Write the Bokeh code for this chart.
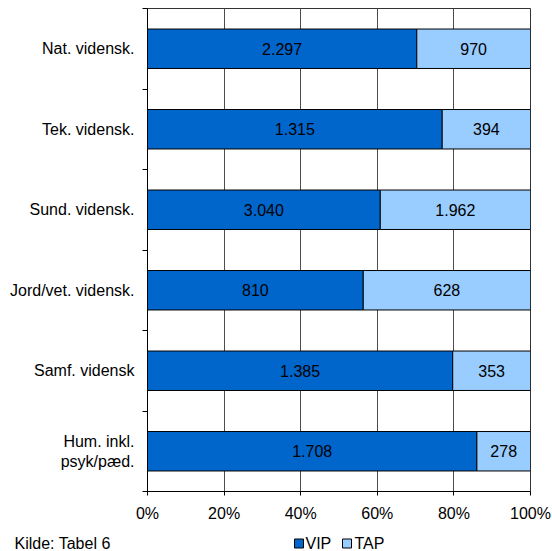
from bokeh.plotting import figure
from bokeh.models import ColumnDataSource, FixedTicker, Range1d
from bokeh.layouts import column, row
from bokeh.core.properties import value
from bokeh.embed import file_html
from bokeh.resources import INLINE

categories = ["Nat. vidensk.", "Tek. vidensk.", "Sund. vidensk.", "Jord/vet. vidensk.",
              "Samf. vidensk", "Hum. inkl.\npsyk/pæd."]
vip = [2297, 1315, 3040, 810, 1385, 1708]
tap = [970, 394, 1962, 628, 353, 278]
series_names = ["VIP", "TAP"]
series_colors = ["#0066CC", "#99CCFF"]
x_ticks = [0, 20, 40, 60, 80, 100]
x_tick_labels = ["0%", "20%", "40%", "60%", "80%", "100%"]
source_note = "Kilde: Tabel 6"

FONT = "Liberation Sans"
FS = "16px"

n = len(categories)
ypos = [n - i - 0.5 for i in range(n)]
tot = [a + b for a, b in zip(vip, tap)]
vip_pct = [100.0 * a / t for a, t in zip(vip, tot)]


def fmt(v):
    return f"{v:,}".replace(",", ".")


src = ColumnDataSource(dict(
    y=ypos,
    vip_r=vip_pct,
    zero=[0] * n,
    full=[100] * n,
    vip_mid=[q / 2 for q in vip_pct],
    tap_mid=[(q + 100) / 2 for q in vip_pct],
    vip_txt=[fmt(v) for v in vip],
    tap_txt=[fmt(v) for v in tap],
))

p = figure(width=552, height=528, output_backend="svg", toolbar_location=None,
           x_range=Range1d(0, 100), y_range=Range1d(0, n),
           min_border_left=147, min_border_right=22, min_border_top=8, min_border_bottom=37)
p.title = None
p.background_fill_color = "white"
p.border_fill_color = "white"
p.outline_line_color = "#333333"

p.hbar(y="y", left="zero", right="vip_r", height=0.49, source=src,
       fill_color=series_colors[0], line_color="black", line_width=1)
p.hbar(y="y", left="vip_r", right="full", height=0.49, source=src,
       fill_color=series_colors[1], line_color="black", line_width=1)

p.text(x="vip_mid", y="y", text="vip_txt", source=src, text_align="center",
       text_baseline="middle", text_font=value(FONT), text_font_size=value(FS),
       text_color="black")
p.text(x="tap_mid", y="y", text="tap_txt", source=src, text_align="center",
       text_baseline="middle", text_font=value(FONT), text_font_size=value(FS),
       text_color="black")

# x axis
p.xaxis.ticker = FixedTicker(ticks=x_ticks)
p.xaxis.major_label_overrides = {t: l for t, l in zip(x_ticks, x_tick_labels)}
p.xaxis.major_label_text_font = FONT
p.xaxis.major_label_text_font_size = FS
p.xaxis.major_label_text_color = "black"
p.xaxis.major_tick_out = 4
p.xaxis.major_tick_in = 0
p.xaxis.minor_tick_out = 0
p.xaxis.minor_tick_in = 0
p.xaxis.major_label_standoff = 9
p.xaxis.axis_line_color = "black"
p.xaxis.major_tick_line_color = "black"

# y axis
p.yaxis.ticker = FixedTicker(ticks=ypos, minor_ticks=list(range(n + 1)))
p.yaxis.major_label_overrides = {y: c for y, c in zip(ypos, categories)}
p.yaxis.major_label_text_font = FONT
p.yaxis.major_label_text_font_size = FS
p.yaxis.major_label_text_color = "black"
p.yaxis.major_tick_out = 0
p.yaxis.major_tick_in = 0
p.yaxis.minor_tick_out = 5
p.yaxis.minor_tick_in = 0
p.yaxis.minor_tick_line_color = "black"
p.yaxis.major_label_standoff = 8
p.yaxis.axis_line_color = "black"

p.xgrid.ticker = FixedTicker(ticks=x_ticks)
p.xgrid.grid_line_color = "#4d4d4d"
p.ygrid.grid_line_color = None

# footer strip: source note + legend
H2 = 23
p2 = figure(width=552, height=H2, output_backend="svg", toolbar_location=None,
            x_range=Range1d(0, 552), y_range=Range1d(0, H2),
            x_axis_type=None, y_axis_type=None,
            min_border_left=0, min_border_right=0, min_border_top=0, min_border_bottom=0)
p2.title = None
p2.outline_line_color = None
p2.background_fill_color = "white"
p2.border_fill_color = "white"
p2.xgrid.visible = False
p2.ygrid.visible = False

ty = 8
p2.text(x=[14], y=[ty], text=[source_note], text_align="left", text_baseline="middle",
        text_font=value(FONT), text_font_size=value(FS), text_color="black")

sq_x = [298.5, 346.5]
lab_x = [305, 354]
p2.rect(x=sq_x, y=[ty, ty], width=9, height=9, width_units="screen", height_units="screen",
        fill_color=series_colors, line_color="black", line_width=1)
p2.text(x=lab_x, y=[ty, ty], text=series_names, text_align="left", text_baseline="middle",
        text_font=value(FONT), text_font_size=value(FS), text_color="black")

layout = column(p, row(p2, spacing=0), spacing=0)
open("out.html", "w").write(file_html(layout, INLINE))
